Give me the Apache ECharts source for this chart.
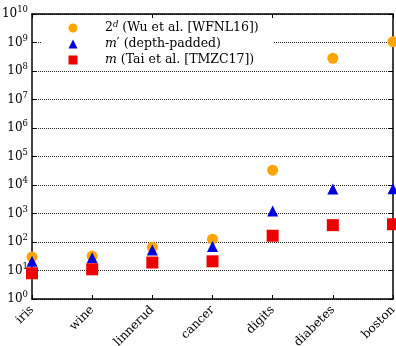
<!DOCTYPE html>
<html>
<head>
<meta charset="utf-8">
<script src="https://cdn.jsdelivr.net/npm/echarts@6/dist/echarts.min.js"></script>
<style>
  html, body { margin: 0; padding: 0; background: #fff; }
  #chart { width: 396px; height: 346px; }
</style>
</head>
<body>
<div id="chart"></div>
<script>
// datasets on the x axis
const datasets = ['iris', 'wine', 'linnerud', 'cancer', 'digits', 'diabetes', 'boston'];
// 2^d (Wu et al.)
const wuValues = [30, 32, 65, 126, 33000, 2.8e8, 1.07e9];
// m' depth-padded
const paddedValues = [21, 28, 52, 70, 1230, 7200, 7400];
// m (Tai et al.)
const taiValues = [8, 11, 19, 21, 166, 390, 420];

const serif = 'DejaVu Serif';

let chart = echarts.init(document.getElementById('chart'));

function expLabel(v) {
  const e = Math.round(Math.log10(v));
  return '10{s|' + e + '}';
}

let option = {
  animation: false,
  textStyle: { fontFamily: serif, color: '#000' },
  grid: { left: 32, right: 3, top: 14, bottom: 47, show: false, outerBoundsMode: 'none' },
  legend: {
    orient: 'vertical',
    left: 42,
    top: 18,
    padding: [2, 15, 2, 26.5],
    backgroundColor: '#fff',
    itemWidth: 9,
    itemHeight: 9,
    itemGap: 0,
    textStyle: {
      fontFamily: serif, fontSize: 12.5, color: '#000', lineHeight: 16,
      padding: [0, 0, 0, 22.5],
      rich: {
        s: { fontSize: 8.5, fontStyle: 'italic', fontFamily: serif, padding: [0, 0, 7, 0] },
        i: { fontSize: 12.5, fontStyle: 'italic', fontFamily: serif }
      }
    },
    formatter: function (name) {
      if (name === 'wu') return '2{s|d} (Wu et al. [WFNL16])';
      if (name === 'padded') return "{i|m}′ (depth-padded)";
      return '{i|m} (Tai et al. [TMZC17])';
    },
    data: ['wu', 'padded', 'tai']
  },
  xAxis: [{
    type: 'category',
    data: datasets,
    boundaryGap: false,
    axisLine: { lineStyle: { color: '#000', width: 1.5 } },
    axisTick: { inside: true, length: 4, lineStyle: { color: '#000' } },
    axisLabel: { rotate: 45, fontFamily: serif, fontSize: 12, color: '#000', margin: 9 },
    splitLine: { show: false }
  }, {
    type: 'category',
    position: 'top',
    data: datasets,
    boundaryGap: false,
    axisLine: { lineStyle: { color: '#000', width: 1.5 } },
    axisTick: { inside: true, length: 4, lineStyle: { color: '#000' } },
    axisLabel: { show: false }
  }],
  yAxis: [{
    type: 'log',
    logBase: 10,
    min: 1,
    max: 1e10,
    interval: 1,
    axisLine: { show: true, lineStyle: { color: '#000', width: 1.5 } },
    axisTick: { show: true, inside: true, length: 4, lineStyle: { color: '#000' } },
    axisLabel: {
      fontFamily: serif, fontSize: 12, color: '#000', margin: 4,
      formatter: expLabel,
      rich: { s: { fontSize: 8.5, fontFamily: serif, padding: [0, 0, 8, 0] } }
    },
    splitLine: { show: true, lineStyle: { color: '#222', width: 1, type: [1, 1] } }
  }, {
    type: 'log',
    logBase: 10,
    min: 1,
    max: 1e10,
    interval: 1,
    position: 'right',
    axisLine: { show: true, lineStyle: { color: '#000', width: 1.5 } },
    axisTick: { show: true, inside: true, length: 4, lineStyle: { color: '#000' } },
    axisLabel: { show: false },
    splitLine: { show: false }
  }],
  series: [{
    name: 'wu',
    type: 'scatter',
    symbol: 'circle',
    symbolSize: 11,
    itemStyle: { color: '#ffa500', opacity: 1 },
    data: wuValues,
    z: 3
  }, {
    name: 'padded',
    type: 'scatter',
    symbol: 'triangle',
    symbolSize: 11,
    itemStyle: { color: '#0000dd', opacity: 1 },
    data: paddedValues,
    z: 4
  }, {
    name: 'tai',
    type: 'scatter',
    symbol: 'rect',
    symbolSize: 12,
    itemStyle: { color: '#ee0000', opacity: 1 },
    data: taiValues,
    z: 5
  }]
};

chart.setOption(option);
</script>
</body>
</html>
